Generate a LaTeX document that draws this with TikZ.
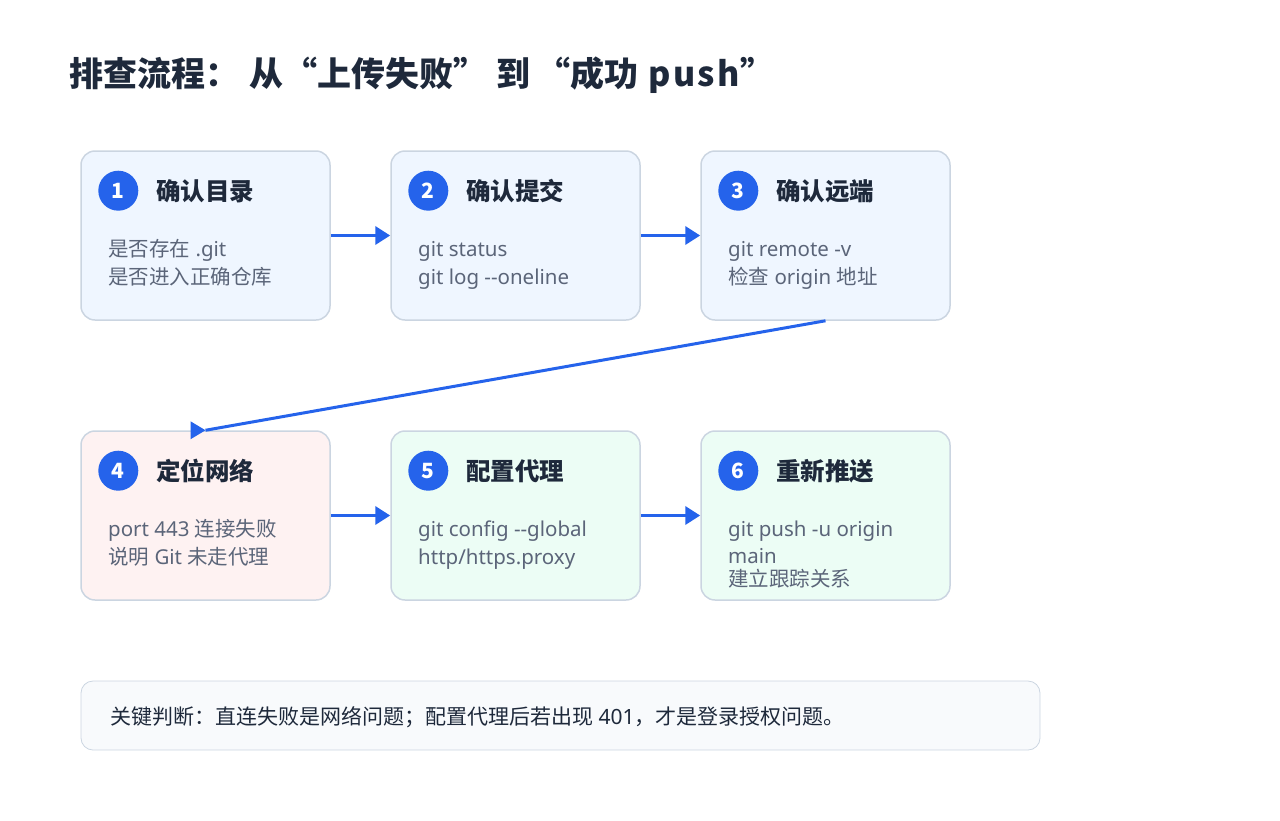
\documentclass[tikz,border=0pt]{standalone}
\usepackage{fontspec}
\setmainfont{Noto Sans}
\newfontfamily\cjk{Noto Sans CJK SC}
\newcommand\C[1]{{\cjk #1}}
\newcommand\dd{\mbox{-}\mbox{-}}
\usetikzlibrary{arrows.meta}
\definecolor{ink}{HTML}{1E293B}
\definecolor{bodyc}{HTML}{5B6579}
\definecolor{blue}{HTML}{2563EB}
\definecolor{edge}{HTML}{CBD5E1}
\definecolor{fblue}{HTML}{EFF6FF}
\definecolor{fred}{HTML}{FEF2F2}
\definecolor{fgreen}{HTML}{ECFDF5}
\definecolor{fnote}{HTML}{F8FAFC}
\tikzset{
  card/.style={draw=edge, line width=1.5pt, rounded corners=14pt, minimum width=249pt, minimum height=169pt, inner sep=0pt},
  num/.style={circle, fill=blue, minimum size=40pt, inner sep=0pt, text=white, font=\cjk\fontsize{21}{24}\selectfont\bfseries},
  ttl/.style={anchor=base west, inner sep=0pt, text=ink, font=\fontsize{24.5}{28}\selectfont\bfseries},
  bodytext/.style={anchor=base west, inner sep=0pt, text=bodyc, font=\fontsize{20.5}{24}\selectfont},
  conn/.style={draw=blue, line width=3.5pt, -{Triangle[length=15pt,width=18pt]}},
}
\begin{document}
\begin{tikzpicture}[x=1pt,y=-1pt]
\useasboundingbox (0,0) rectangle (1280,820);
% title
\node[anchor=base west, inner sep=0pt, text=ink, font=\cjk\fontsize{34}{40}\selectfont\bfseries] (title) at (69,86.5) {排查流程：\hspace{10pt}从“上传失败”\hspace{9pt}到\hspace{6pt}“成功\hspace{10pt}p\kern2.5pt u\kern2.5pt s\kern2.5pt h”};
% cards
\node[card, fill=fblue] (c1) at (205.5,235.5) {};
\node[card, fill=fblue] (c2) at (515.5,235.5) {};
\node[card, fill=fblue] (c3) at (825.5,235.5) {};
\node[card, fill=fred] (c4) at (205.5,515.5) {};
\node[card, fill=fgreen] (c5) at (515.5,515.5) {};
\node[card, fill=fgreen] (c6) at (825.5,515.5) {};
% numbers
\node[num] (n1) at (118.3,190.7) {1};
\node[num] (n2) at (428.3,190.7) {2};
\node[num] (n3) at (738.3,190.7) {3};
\node[num] (n4) at (118.3,470.7) {4};
\node[num] (n5) at (428.3,470.7) {5};
\node[num] (n6) at (738.3,470.7) {6};
% titles
\node[ttl] (t1) at (156,200.3) {\C{确认目录}};
\node[ttl] (t2) at (466,200.3) {\C{确认提交}};
\node[ttl] (t3) at (776,200.3) {\C{确认远端}};
\node[ttl] (t4) at (156,480.3) {\C{定位网络}};
\node[ttl] (t5) at (466,480.3) {\C{配置代理}};
\node[ttl] (t6) at (776,480.3) {\C{重新推送}};
% bodies
\node[bodytext] (b1a) at (108,256.5) {\C{是否存在} .git};
\node[bodytext] (b1b) at (108,284.5) {\C{是否进入正确仓库}};
\node[bodytext] (b2a) at (418,256.5) {git status};
\node[bodytext] (b2b) at (418,284.5) {git log \dd oneline};
\node[bodytext] (b3a) at (728,256.5) {git remote -v};
\node[bodytext] (b3b) at (728,284.5) {\C{检查} origin \C{地址}};
\node[bodytext] (b4a) at (108,536.5) {port 443 \C{连接失败}};
\node[bodytext] (b4b) at (108,564.5) {\C{说明} Git \C{未走代理}};
\node[bodytext] (b5a) at (418,536.5) {git config \dd global};
\node[bodytext] (b5b) at (418,564.5) {http/https.proxy};
\node[bodytext] (b6a) at (728,536.5) {git push -u origin};
\node[bodytext] (b6b) at (728,563.5) {main};
\node[bodytext] (b6c) at (728,586.5) {\C{建立跟踪关系}};
% connectors
\draw[conn] (c1.east) -- (c2.west);
\draw[conn] (c2.east) -- (c3.west);
\draw[conn] (c4.east) -- (c5.west);
\draw[conn] (c5.east) -- (c6.west);
\draw[draw=blue, line width=3pt] (c3.south) -- (c4.north);
\fill[blue] (c4.north) -- ++(-15,-9) -- ++(0,18) -- cycle;
% note
\node[draw=edge, line width=0.8pt, fill=fnote, rounded corners=12pt, minimum width=959pt, minimum height=69pt, inner sep=0pt] (note) at (560.5,715.5) {};
\node[anchor=base west, inner sep=0pt, text=ink, font=\fontsize{21}{24}\selectfont] (notetext) at (110,724) {\C{关键判断：直连失败是网络问题；配置代理后若出现} 401\C{，才是登录授权问题。}};
\end{tikzpicture}
\end{document}
